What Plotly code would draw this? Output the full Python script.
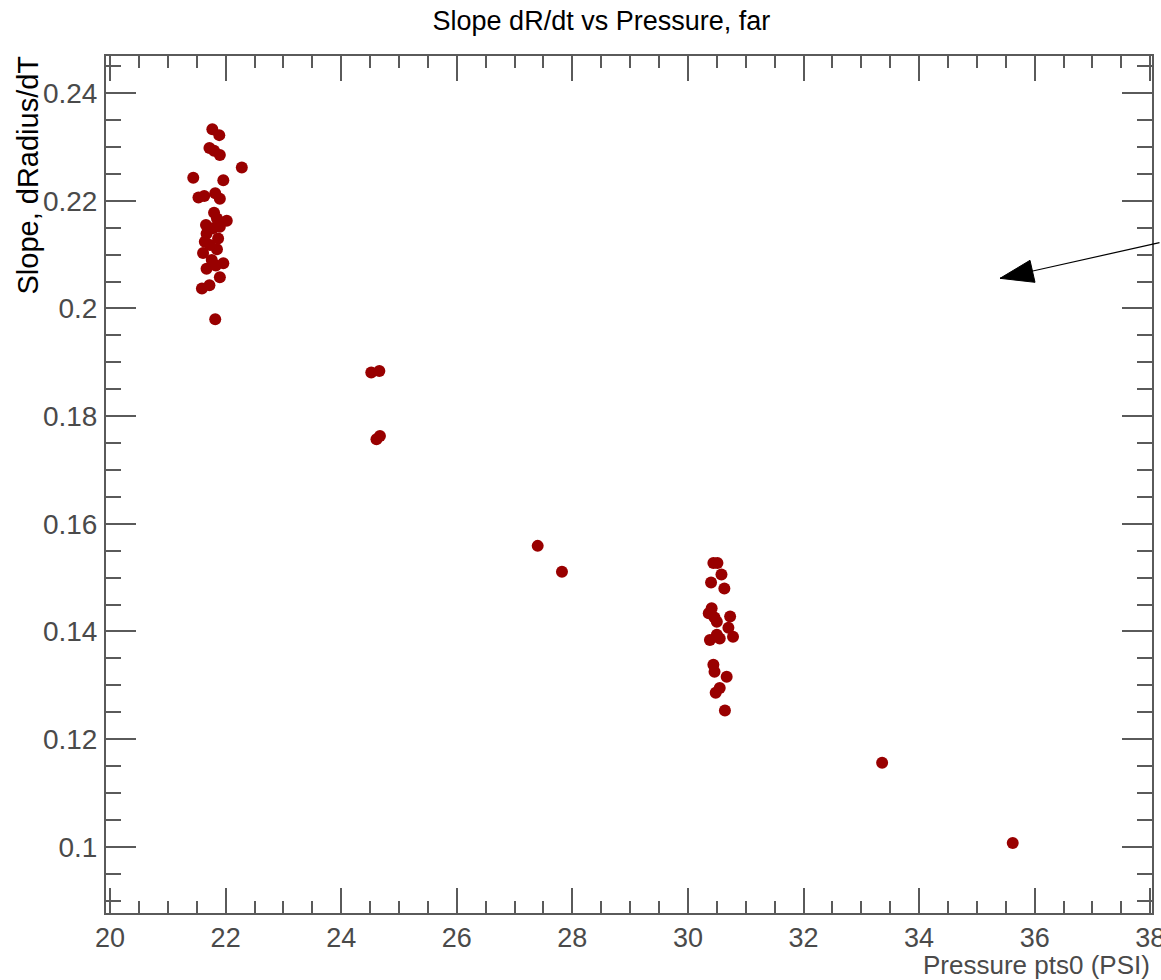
import plotly.graph_objects as go

# Measured slope (dRadius/dT) against initial pressure pts0 (PSI)
pressure = [
    21.77, 21.89, 21.72, 21.80, 21.90, 22.28, 21.44, 21.96, 21.53, 21.63,
    21.82, 21.90, 21.80, 21.85, 22.02, 21.66, 21.90, 21.67, 21.87, 21.64,
    21.85, 21.61, 21.76, 21.96, 21.67, 21.90, 21.72, 21.59, 21.82, 21.78,
    21.73, 21.83,
    24.52, 24.66, 24.61, 24.67,
    27.40, 27.82,
    30.44, 30.51, 30.58, 30.40, 30.63, 30.41, 30.36, 30.46, 30.73, 30.50,
    30.70, 30.50, 30.38, 30.55, 30.78, 30.44, 30.46, 30.67, 30.55, 30.48,
    30.64,
    33.36, 35.62,
]
slope = [
    0.2333, 0.2322, 0.2298, 0.2293, 0.2285, 0.2262, 0.2243, 0.2238, 0.2206, 0.2209,
    0.2214, 0.2204, 0.2178, 0.2167, 0.2163, 0.2155, 0.2152, 0.2139, 0.2130, 0.2124,
    0.2110, 0.2103, 0.2090, 0.2084, 0.2074, 0.2058, 0.2043, 0.2037, 0.1980, 0.2149,
    0.2118, 0.2080,
    0.1881, 0.1884, 0.1757, 0.1763,
    0.1559, 0.1511,
    0.1527, 0.1527, 0.1506, 0.1491, 0.1480, 0.1443, 0.1434, 0.1426, 0.1428, 0.1418,
    0.1407, 0.1394, 0.1384, 0.1387, 0.1390, 0.1338, 0.1325, 0.1316, 0.1295, 0.1286,
    0.1253,
    0.1156, 0.1007,
]

x_range = [19.93, 38.03]
y_range = [0.0877, 0.2469]
arrow_tip = (35.40, 0.2056)

FONT = "Liberation Sans, Arial, Helvetica, sans-serif"
AXIS_GREY = "#5a5a5a"
LABEL_GREY = "#4a4a4a"

fig = go.Figure()
fig.add_trace(go.Scatter(
    x=pressure, y=slope, mode="markers",
    marker=dict(color="#990000", size=12, line=dict(width=0)),
    showlegend=False,
))

common = dict(
    showgrid=False, zeroline=False, automargin=False,
    showline=True, linecolor=AXIS_GREY, linewidth=2, mirror="allticks",
    ticks="inside", tickcolor=AXIS_GREY, tickwidth=1.5,
    ticklabeloverflow="allow",
)

fig.update_xaxes(
    range=x_range, tick0=0, dtick=2, ticklen=25,
    minor=dict(dtick=0.5, ticklen=12, ticks="inside", tickcolor=AXIS_GREY,
               tickwidth=1.5, showgrid=False),
    tickfont=dict(family=FONT, size=27, color=LABEL_GREY),
    ticklabelstandoff=0,
    **common,
)
fig.update_yaxes(
    range=y_range, tick0=0, dtick=0.02, ticklen=30,
    minor=dict(dtick=0.005, ticklen=15, ticks="inside", tickcolor=AXIS_GREY,
               tickwidth=1.5, showgrid=False),
    tickfont=dict(family=FONT, size=28, color=LABEL_GREY),
    ticklabelstandoff=1,
    **common,
)

# Arrow: shaft as an annotation, filled head as a pixel-sized triangle
fig.add_annotation(
    x=arrow_tip[0], y=arrow_tip[1], xref="x", yref="y", text="",
    showarrow=True, arrowhead=0, arrowwidth=1.2, arrowcolor="black",
    ax=163, ay=-36, standoff=0,
)
fig.add_shape(
    type="path", xref="x", yref="y",
    xsizemode="pixel", ysizemode="pixel",
    xanchor=arrow_tip[0], yanchor=arrow_tip[1],
    path="M0,0 L30,18 L35,-4 Z",
    fillcolor="black", line=dict(color="black", width=1),
)

# Axis titles placed at the end of each axis
fig.add_annotation(
    text="Pressure pts0 (PSI)", xref="paper", yref="paper",
    x=1, y=0, xanchor="right", yanchor="middle", yshift=-52, showarrow=False,
    font=dict(family=FONT, size=26, color=LABEL_GREY),
)
fig.add_annotation(
    text="Slope, dRadius/dT", xref="paper", yref="paper", textangle=-90,
    x=0, y=1, xanchor="center", yanchor="top", xshift=-79, yshift=2,
    showarrow=False,
    font=dict(family=FONT, size=29, color="black"),
)

fig.update_layout(
    width=1161, height=980,
    margin=dict(l=106, r=9, t=56, b=67),
    paper_bgcolor="white", plot_bgcolor="white",
    title=dict(
        text="Slope dR/dt vs Pressure, far",
        font=dict(family=FONT, size=27, color="black"),
        xref="container", x=0.518, xanchor="center",
        yref="container", y=1 - 21 / 980, yanchor="middle",
    ),
)

fig.write_html("out.html")
